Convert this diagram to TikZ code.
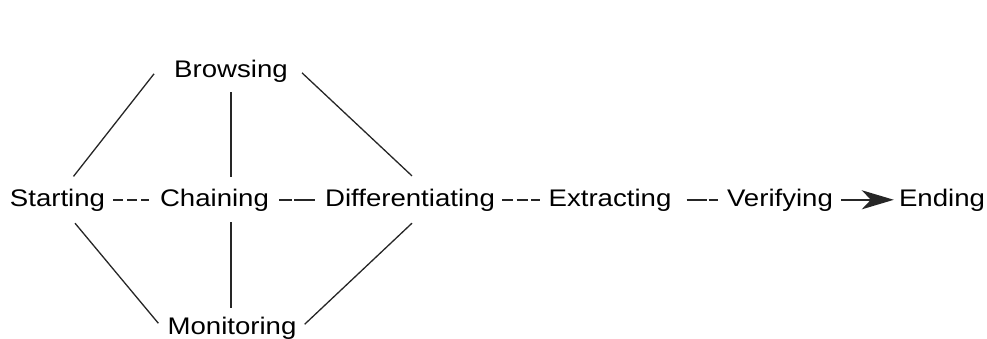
\documentclass[tikz,border=0pt]{standalone}
\usepackage{fontspec}
\setmainfont{Liberation Sans}[FakeStretch=1.15]
\usepackage{tikz}
\usetikzlibrary{arrows.meta,calc}

\tikzset{
  phase/.style={anchor=base,inner sep=0pt,font=\fontsize{24}{28}\selectfont},
  link/.style={line width=1.3pt,black!85},
  rowlink/.style={line width=1.9pt,black!85}
}

\begin{document}
\begin{tikzpicture}[x=1pt,y=-1pt]
      \useasboundingbox (0,0) rectangle (987,338);
      % the activities
      \node[phase] (start) at (57.5,206) {Starting};
      \node[phase] (chain) at (214.5,206) {Chaining};
      \node[phase] (diff) at (410,206) {Differentiating};
      \node[phase] (extr) at (610,206) {Extracting};
      \node[phase] (verif) at (780,206) {Verifying};
      \node[phase] (endg) at (942,206) {Ending};
      \node[phase] (brow) at (231,77) {Browsing};
      \node[phase] (mon) at (232,334) {Monitoring};
      % the row
      \draw[rowlink,dash pattern=on 10pt off 4pt,shorten <=8pt,shorten >=11pt] (start.east) -- (chain.west);
      \draw[rowlink,dash pattern=on 13pt off 2pt on 23pt off 20pt,shorten <=10pt,shorten >=10pt] (chain.east) -- (diff.west);
      \draw[rowlink,dash pattern=on 11pt off 3.5pt,shorten <=7pt,shorten >=8pt] (diff.east) -- (extr.west);
      \draw[rowlink,dash pattern=on 20pt off 2pt on 9pt off 20pt,shorten <=15pt,shorten >=7pt] (extr.east) -- (verif.west);
      \draw[rowlink,line width=2.2pt,-{Stealth[length=32pt,width=19pt,inset=9pt]},shorten <=8pt,shorten >=5pt] (verif.east) -- (endg.west);
      % the loop above and below
      \draw[link] ($(start.north)+(16,-12)$) -- ($(brow.west)+(-20,3)$);
      \draw[link] ($(brow.east)+(14,2)$) -- ($(diff.north)+(2,-12.5)$);
      \draw[link,shorten <=10pt,shorten >=11.5pt] (brow.south) -- (brow.south |- chain.north);
      \draw[link] ($(start.south)+(17.5,12)$) -- ($(mon.west)+(-9,-4.5)$);
      \draw[link] ($(diff.south)+(2,12)$) -- ($(mon.east)+(8,-3.5)$);
      \draw[link,shorten <=11pt,shorten >=8pt] (brow.south |- chain.south) -- (brow.south |- mon.north);
\end{tikzpicture}
\end{document}
